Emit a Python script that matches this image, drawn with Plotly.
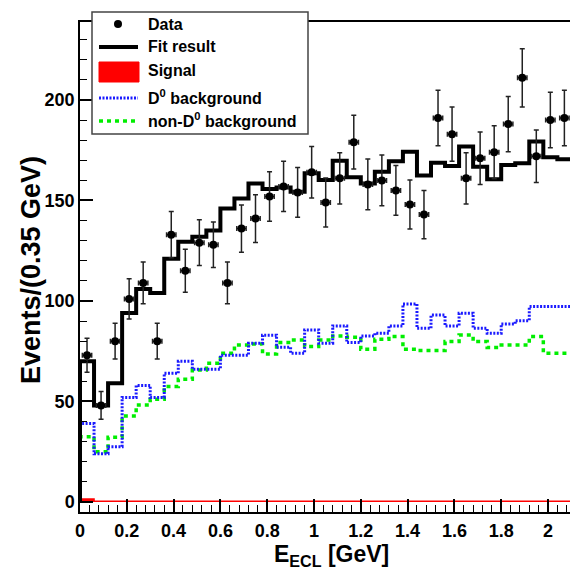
import plotly.graph_objects as go

# ---------------- data ----------------
bin_width = 0.06
n_bins = 35
edges = [round(i * bin_width, 4) for i in range(n_bins + 1)]
centers = [round((i + 0.5) * bin_width, 4) for i in range(n_bins)]

data_counts = [73, 48, 80, 101, 109, 80, 133, 115, 129, 128, 109, 136, 141, 152, 157,
               154, 164, 149, 161, 179, 158, 160, 155, 148, 143, 191, 183, 161, 171, 174,
               188, 211, 172, 190, 191]
data_err = [8.5, 6.9, 8.9, 10.0, 10.4, 8.9, 11.5, 10.7, 11.4, 11.3, 10.4, 11.7, 11.9, 12.3, 12.5,
            12.4, 12.8, 12.2, 12.7, 13.4, 12.6, 12.6, 12.4, 12.2, 12.0, 13.8, 13.5, 12.7, 13.1, 13.2,
            13.7, 14.5, 13.1, 13.8, 13.8]
fit_result = [70, 48, 59, 94, 106, 104, 121, 129.5, 132, 135, 146, 151, 158.5, 155.7, 156.4,
              154.4, 163.5, 160.2, 169.8, 161.5, 158.5, 164.3, 169.5, 174.3, 162.4, 168.8, 167.2,
              176.8, 166.8, 160.5, 167.7, 168.5, 179.3, 171.5, 170.5]
d0_bkg = [39, 24, 27.5, 52, 58, 52, 64, 70, 66, 66, 73, 73, 79, 83, 77, 74, 85.6, 79, 87.6,
          79.3, 82.6, 83.9, 87.6, 98.5, 86.4, 93, 87.6, 93.9, 86.4, 83.9, 88.6, 90.2, 97.2,
          97.2, 97.2]
nond0_bkg = [32.5, 25, 32.2, 42.8, 48.3, 51.1, 57.4, 61, 65.7, 69, 74, 78.1, 78.6, 73.6, 79.3,
             80.6, 77.3, 80.6, 82.6, 81.9, 76, 80.9, 82.3, 76, 75.3, 75.3, 79.8, 83.1, 79.8,
             76.8, 78.1, 78.1, 82.3, 74, 74]
signal = [1.5, 0.4, 0.3, 0.3, 0.3, 0.3, 0.3, 0.3, 0.3, 0.3, 0.3, 0.3, 0.3, 0.3, 0.3,
          0.3, 0.3, 0.3, 0.3, 0.3, 0.3, 0.3, 0.3, 0.3, 0.3, 0.3, 0.3, 0.3, 0.3, 0.3,
          0.3, 0.3, 0.3, 0.3, 0.3]
x_half_err = [0.02] * n_bins

x_tick_vals = [0, 0.2, 0.4, 0.6, 0.8, 1, 1.2, 1.4, 1.6, 1.8, 2]
x_tick_text = ["0", "0.2", "0.4", "0.6", "0.8", "1", "1.2", "1.4", "1.6", "1.8", "2"]
y_tick_vals = [0, 50, 100, 150, 200]
y_tick_text = ["0", "50", "100", "150", "200"]

FONT = "Liberation Sans, Arial, Helvetica, sans-serif"
BLUE = "#1a1aff"
GREEN = "#00ee00"


def step_xy(vals):
    xs = [edges[0]] + edges
    ys = [0] + list(vals) + [vals[-1]]
    return xs, ys


fig = go.Figure()

# signal (filled red)
sx, sy = step_xy(signal)
fig.add_trace(go.Scatter(x=sx, y=sy, mode="lines", line=dict(color="red", width=1.5, shape="hv"),
                         fill="tozeroy", fillcolor="red", showlegend=False, hoverinfo="skip"))
# non-D0 background (green dotted)
gx, gy = step_xy(nond0_bkg)
fig.add_trace(go.Scatter(x=gx, y=gy, mode="lines",
                         line=dict(color=GREEN, width=3.5, shape="hv", dash="4px,4px"),
                         showlegend=False, hoverinfo="skip"))
# D0 background (blue dotted)
bx, by = step_xy(d0_bkg)
fig.add_trace(go.Scatter(x=bx, y=by, mode="lines",
                         line=dict(color=BLUE, width=3, shape="hv", dash="2px,1.5px"),
                         showlegend=False, hoverinfo="skip"))
# fit result (black)
fx, fy = step_xy(fit_result)
fig.add_trace(go.Scatter(x=fx, y=fy, mode="lines", line=dict(color="black", width=4, shape="hv"),
                         showlegend=False, hoverinfo="skip"))
# data points
fig.add_trace(go.Scatter(x=centers, y=data_counts, mode="markers",
                         marker=dict(color="black", size=8),
                         error_y=dict(type="data", array=data_err, color="#222222", thickness=1.5, width=2.5),
                         error_x=dict(type="data", array=x_half_err, color="#222222", thickness=1.5, width=2.5),
                         showlegend=False, hoverinfo="skip"))

L, R, T, B = 80, 570, 22, 512


def px(xp):
    return (xp - L) / (R - L)


def py(yp):
    return (B - yp) / (B - T)


shapes = []
# legend box
shapes.append(dict(type="rect", xref="paper", yref="paper", x0=px(92), x1=px(308), y0=py(134), y1=py(12),
                   fillcolor="white", line=dict(color="#444444", width=1.5), layer="above"))
# data dot
shapes.append(dict(type="circle", xref="paper", yref="paper", x0=px(114), x1=px(122), y0=py(28), y1=py(20),
                   fillcolor="black", line=dict(color="black", width=0), layer="above"))
# fit line
shapes.append(dict(type="line", xref="paper", yref="paper", x0=px(99), x1=px(138), y0=py(47), y1=py(47),
                   line=dict(color="black", width=4), layer="above"))
# signal box
shapes.append(dict(type="rect", xref="paper", yref="paper", x0=px(99), x1=px(139), y0=py(82), y1=py(62),
                   fillcolor="red", line=dict(color="red", width=1), layer="above"))
# D0 bkg
shapes.append(dict(type="line", xref="paper", yref="paper", x0=px(99), x1=px(138), y0=py(98), y1=py(98),
                   line=dict(color=BLUE, width=3, dash="2px,1.5px"), layer="above"))
# non-D0 bkg
shapes.append(dict(type="line", xref="paper", yref="paper", x0=px(99), x1=px(138), y0=py(121), y1=py(121),
                   line=dict(color=GREEN, width=3.5, dash="4px,4px"), layer="above"))

leg_labels = ["Data", "Fit result", "Signal", "D<sup>0</sup> background", "non-D<sup>0</sup> background"]
leg_y = [24, 47, 71, 97, 120]
annotations = []
for lab, yy in zip(leg_labels, leg_y):
    annotations.append(dict(text=lab, xref="paper", yref="paper", x=px(146), y=py(yy),
                            xanchor="left", yanchor="middle", showarrow=False,
                            font=dict(family=FONT, size=16, color="black", weight="bold")))

# axis titles
annotations.append(dict(text="E<sub>ECL</sub> [GeV]", xref="paper", yref="paper", x=px(331), y=py(555),
                        xanchor="center", yanchor="middle", showarrow=False,
                        font=dict(family=FONT, size=23, color="black", weight="bold")))
annotations.append(dict(text="Events/(0.35 GeV)", xref="paper", yref="paper", x=px(31), y=py(270),
                        xanchor="center", yanchor="middle", showarrow=False, textangle=-90,
                        font=dict(family=FONT, size=27, color="black", weight="bold")))

fig.update_layout(
    width=570, height=569,
    margin=dict(l=L, r=570 - R, t=T, b=569 - B, autoexpand=False),
    paper_bgcolor="white", plot_bgcolor="white",
    shapes=shapes, annotations=annotations,
    showlegend=False,
)
fig.update_xaxes(range=[0, 2.094], showline=True, linecolor="black", linewidth=1.5, mirror=True,
                 automargin=False,
                 ticks="inside", ticklen=13, tickwidth=1.5, tickcolor="black",
                 tickvals=x_tick_vals, ticktext=x_tick_text, ticklabelstandoff=2,
                 minor=dict(ticks="inside", ticklen=7, dtick=0.04, tick0=0, tickcolor="black", tickwidth=1.2),
                 showgrid=False, zeroline=False,
                 tickfont=dict(family=FONT, size=18, color="black", weight="bold"))
fig.update_yaxes(range=[-5, 238.8], showline=True, linecolor="black", linewidth=1.5,
                 automargin=False,
                 ticks="inside", ticklen=13, tickwidth=1.5, tickcolor="black",
                 tickvals=y_tick_vals, ticktext=y_tick_text,
                 minor=dict(ticks="inside", ticklen=7, dtick=10, tick0=0, tickcolor="black", tickwidth=1.2),
                 showgrid=False, zeroline=False,
                 tickfont=dict(family=FONT, size=18, color="black", weight="bold"))

fig.write_html("out.html", config={"displayModeBar": False},
               post_script="document.body.style.margin='0px';document.body.style.padding='0px';")
